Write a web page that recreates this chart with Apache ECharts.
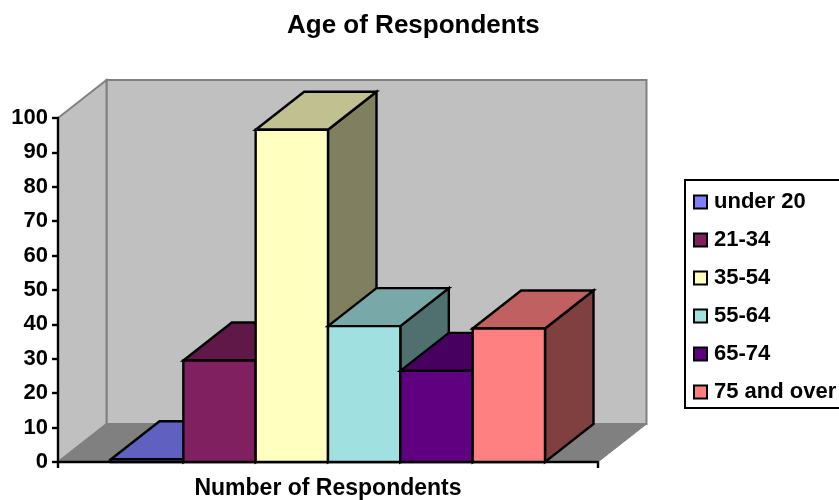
<!DOCTYPE html>
<html><head><meta charset="utf-8">
<style>html,body{margin:0;padding:0;background:#fff;overflow:hidden}#c{width:839px;height:500px}</style>
<script src="https://cdn.jsdelivr.net/npm/echarts@6/dist/echarts.min.js"></script>
</head><body><div id="c"></div>
<script>
const categories = ["Number of Respondents"];
const groups = ["under 20","21-34","35-54","55-64","65-74","75 and over"];
const values = [0.8,29.5,96.6,39.5,26.5,38.8];
const yTicks = [0,10,20,30,40,50,60,70,80,90,100];
const frontColors = ["#8080ff","#802060","#ffffc0","#a0e0e0","#600080","#ff8080"];
const topColors = ["#6060c0","#601848","#c0c090","#78a8a8","#480060","#c06060"];
const sideColors = ["#404080","#401030","#808060","#507070","#300040","#804040"];

const DX = 48.5, DY = 38;
const FONT = '"Liberation Sans", Arial, sans-serif';
const BAR_SPAN = 434 / 540;

function poly(points, fill, stroke, w) {
  return {type:'polygon', shape:{points}, style:{fill, stroke, lineWidth:w, lineJoin:'miter'}};
}
function walls(params, api) {
  const a = api.coord([0, 0]), t = api.coord([0, 100]), band = api.size([1, 0])[0];
  const l = a[0] - band / 2, r = a[0] + band / 2, b = a[1], u = t[1];
  const wall = '#c0c0c0', edge = '#808080';
  return {type:'group', children:[
    poly([[l+DX,u-DY],[r+DX,u-DY],[r+DX,b-DY],[l+DX,b-DY]], wall, edge, 2),
    poly([[l,u],[l+DX,u-DY],[l+DX,b-DY],[l,b]], wall, edge, 2),
    poly([[l,b],[l+DX,b-DY],[r+DX,b-DY],[r,b]], edge, edge, 1)
  ]};
}
function barRenderer(i) {
  return function (params, api) {
    const p = api.coord([api.value(0), api.value(1)]), z = api.coord([api.value(0), 0]);
    const span = api.size([1, 0])[0] * BAR_SPAN, w = span / groups.length;
    const x0 = p[0] - span / 2 + i * w, x1 = x0 + w, t = p[1], b = z[1];
    return {type:'group', children:[
      poly([[x1,t],[x1+DX,t-DY],[x1+DX,b-DY],[x1,b]], sideColors[i], '#000', 2.4),
      poly([[x0,t],[x0+DX,t-DY],[x1+DX,t-DY],[x1,t]], topColors[i], '#000', 2.4),
      poly([[x0,t],[x1,t],[x1,b],[x0,b]], frontColors[i], '#000', 2.4)
    ]};
  };
}
const series = [{
  type:'custom', name:'walls', z:0, silent:true,
  data:[[0, 100]], encode:{x:0,y:1}, renderItem:walls
}];
groups.forEach((g, i) => series.push({
  type:'custom', name:g, z:3, silent:true,
  data:[[0, values[i]]], encode:{x:0,y:1},
  itemStyle:{color:frontColors[i], borderColor:'#000', borderWidth:1.5},
  renderItem:barRenderer(i)
}));
const chart = echarts.init(document.getElementById('c'), null, {renderer:'canvas'});
chart.setOption({
  animation:false,
  backgroundColor:'#fff',
  title:{text:'Age of Respondents', left:282, top:8,
    textStyle:{fontFamily:FONT, fontWeight:'bold', fontSize:26, color:'#000'}},
  grid:{left:58, top:118, width:540, height:344},
  xAxis:{type:'category', data:categories, z:2,
    axisLine:{lineStyle:{color:'#000', width:2.4}},
    axisTick:{show:true, length:6, alignWithLabel:false, lineStyle:{color:'#000', width:2.4}},
    axisLabel:{color:'#000', fontFamily:FONT, fontWeight:'bold', fontSize:23, margin:15}},
  yAxis:{type:'value', min:0, max:100, interval:10, z:2,
    splitLine:{show:false},
    axisLine:{show:true, lineStyle:{color:'#000', width:2.4}},
    axisTick:{show:true, length:6, lineStyle:{color:'#000', width:2.4}},
    axisLabel:{color:'#000', fontFamily:FONT, fontWeight:'bold', fontSize:22, margin:10,
      padding:[2,0,0,0], customValues:yTicks}},
  legend:{orient:'vertical', left:685, top:180, data:groups, selectedMode:false,
    backgroundColor:'#fff', borderColor:'#000', borderWidth:2, padding:[11,8,5,8],
    itemWidth:13, itemHeight:13, itemGap:16, icon:'rect',
    textStyle:{color:'#000', fontFamily:FONT, fontWeight:'bold', fontSize:22, padding:[0,0,0,2]}},
  series
});
</script></body></html>
